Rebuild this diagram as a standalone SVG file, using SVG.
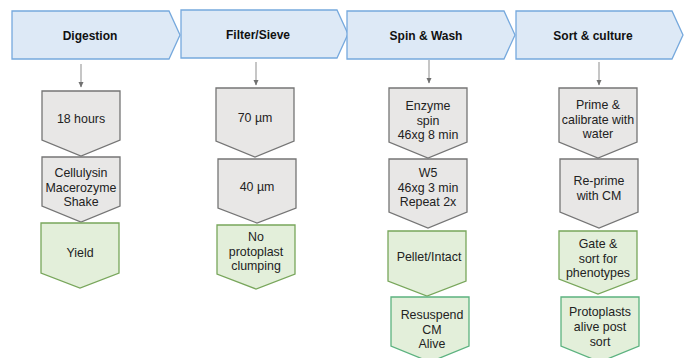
<svg xmlns="http://www.w3.org/2000/svg" width="691" height="358" viewBox="0 0 691 358">
<style>
.hdr{fill:#dde9f6;stroke:#76a9dd;stroke-width:1.3}
.gry{fill:#e8e7e6;stroke:#757575;stroke-width:1.3}
.grn{fill:#e3efda;stroke:#78a65b;stroke-width:1.3}
.grn2{fill:#e3efda;stroke:#5cb27f;stroke-width:1.3}
.ht{font-family:"Liberation Sans",Arial,sans-serif;font-size:12px;font-weight:bold;fill:#111;text-anchor:middle}
.t{font-family:"Liberation Sans",Arial,sans-serif;font-size:12.4px;fill:#222;text-anchor:middle}
.cn{stroke:#a0a0a0;stroke-width:1.2;fill:none}
</style>
<defs>
<marker id="ah" viewBox="0 0 6 6" refX="5" refY="3" markerWidth="6" markerHeight="6" markerUnits="userSpaceOnUse" orient="auto">
<path d="M0,0.5 L5.5,3 L0,5.5 Z" fill="#707070"/>
</marker>
</defs>
<g id="connectors">
<line class="cn" x1="81" y1="64" x2="81" y2="87" marker-end="url(#ah)"/>
<line class="cn" x1="256" y1="62" x2="256" y2="85" marker-end="url(#ah)"/>
<line class="cn" x1="429" y1="60" x2="429" y2="83" marker-end="url(#ah)"/>
<line class="cn" x1="599" y1="62" x2="599" y2="85" marker-end="url(#ah)"/>
</g>
<g id="h1"><polygon class="hdr" points="12,11 169,11 180,35 169,59 12,59"/><text class="ht" x="90" y="40">Digestion</text></g>
<g id="h2"><polygon class="hdr" points="181,10 337,10 348,34 337,58 181,58"/><text class="ht" x="258" y="39">Filter/Sieve</text></g>
<g id="h3"><polygon class="hdr" points="347,11 504,11 515,35 504,59 347,59"/><text class="ht" x="426" y="40">Spin &amp; Wash</text></g>
<g id="h4"><polygon class="hdr" points="516,11 672,11 683,35 672,59 516,59"/><text class="ht" x="593" y="40">Sort &amp; culture</text></g>

<g id="c1a"><polygon class="gry" points="42,91 120,91 120,140 81,156 42,140"/><text class="t" x="81" y="123">18 hours</text></g>
<g id="c1b"><polygon class="gry" points="42,157 120,157 120,206 81,222 42,206"/><text class="t" x="81" y="177">Cellulysin</text><text class="t" x="81" y="191.5">Macerozyme</text><text class="t" x="81" y="206">Shake</text></g>
<g id="c1c"><polygon class="grn" points="41,223 119,223 119,273 80,288 41,273"/><text class="t" x="80" y="257">Yield</text></g>

<g id="c2a"><polygon class="gry" points="216,88 294,88 294,141 255,157 216,141"/><text class="t" x="255" y="122">70 µm</text></g>
<g id="c2b"><polygon class="gry" points="218,159 296,159 296,208 257,223 218,208"/><text class="t" x="257" y="191">40 µm</text></g>
<g id="c2c"><polygon class="grn" points="217,225 295,225 295,274 256,289 217,274"/><text class="t" x="256" y="241">No</text><text class="t" x="256" y="256">protoplast</text><text class="t" x="256" y="270">clumping</text></g>

<g id="c3a"><polygon class="gry" points="389,88 467,88 467,142 428,158 389,142"/><text class="t" x="428" y="110">Enzyme</text><text class="t" x="428" y="124.5">spin</text><text class="t" x="428" y="138.5">46xg 8 min</text></g>
<g id="c3b"><polygon class="gry" points="389,159 467,159 467,212 428,228 389,212"/><text class="t" x="428" y="177">W5</text><text class="t" x="428" y="191.5">46xg 3 min</text><text class="t" x="428" y="206">Repeat 2x</text></g>
<g id="c3c"><polygon class="grn" points="388,231 466,231 466,281 427,296 388,281"/><text class="t" x="429" y="261">Pellet/Intact</text></g>
<g id="c3d"><polygon class="grn2" points="391,297 469,297 469,346 430,362 391,346"/><text class="t" x="432" y="319">Resuspend</text><text class="t" x="432" y="333.5">CM</text><text class="t" x="432" y="347.5">Alive</text></g>

<g id="c4a"><polygon class="gry" points="559,88 637,88 637,142 598,158 559,142"/><text class="t" x="598" y="109">Prime &amp;</text><text class="t" x="598" y="123.5">calibrate with</text><text class="t" x="598" y="137.5">water</text></g>
<g id="c4b"><polygon class="gry" points="560,159 638,159 638,212 599,228 560,212"/><text class="t" x="599" y="185">Re-prime</text><text class="t" x="599" y="199.5">with CM</text></g>
<g id="c4c"><polygon class="grn" points="559,231 637,231 637,279 598,294 559,279"/><text class="t" x="598" y="248">Gate &amp;</text><text class="t" x="598" y="263">sort for</text><text class="t" x="598" y="277">phenotypes</text></g>
<g id="c4d"><polygon class="grn2" points="561,297 639,297 639,346 600,362 561,346"/><text class="t" x="600" y="316">Protoplasts</text><text class="t" x="600" y="331">alive post</text><text class="t" x="600" y="346">sort</text></g>
</svg>
